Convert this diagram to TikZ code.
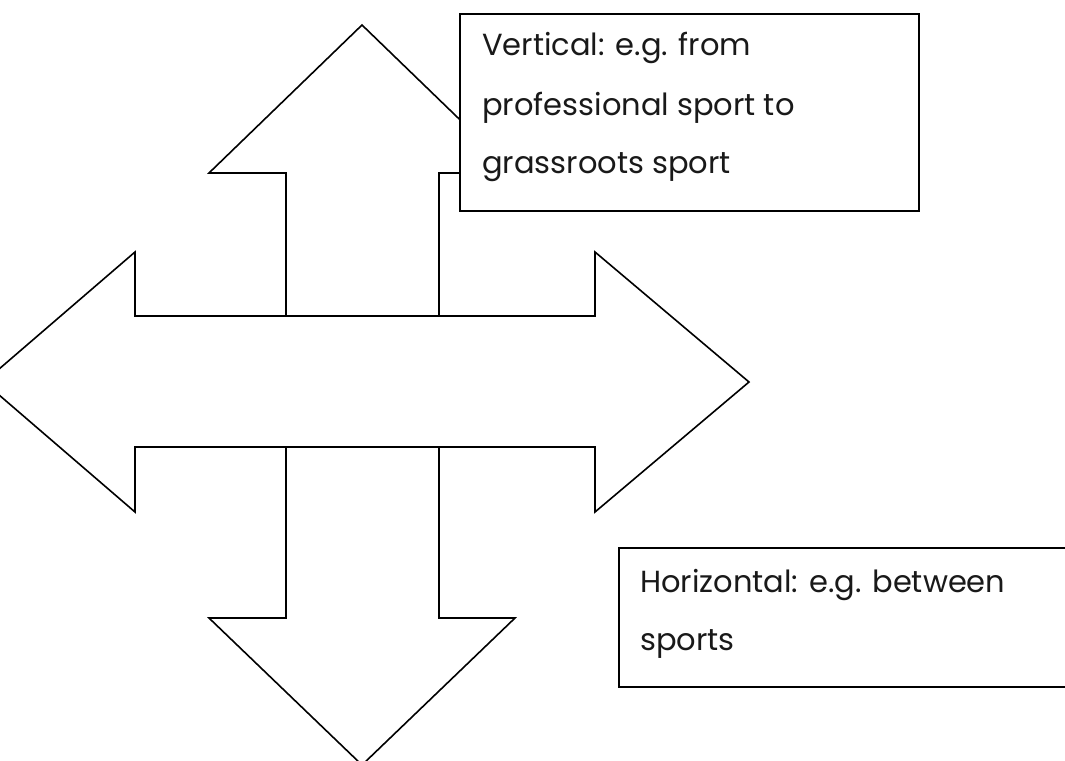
\documentclass[tikz,border=0pt]{standalone}
\usepackage{fontspec}
\setmainfont{Poppins}
\newcommand{\lblfont}{\fontsize{30.5}{36}\selectfont}
\begin{document}
\begin{tikzpicture}[x=1pt,y=-1pt,
  outline/.style={draw=black,line width=1.6pt,line join=miter,fill=white},
  box/.style={draw=black,line width=1.6pt,fill=white,rectangle,inner sep=0pt},
  txt/.style={anchor=base west,inner sep=0pt,font=\lblfont,text=black!90}]
\useasboundingbox (0,0) rectangle (1065,760);
\clip (0,0) rectangle (1065,760);
% vertical double arrow
\draw[outline] (362,25) -- (515,173) -- (439,173) -- (439,618) -- (515,618)
  -- (362,765) -- (209,618) -- (286,618) -- (286,173) -- (209,173) -- cycle;
% horizontal double arrow, drawn on top
\draw[outline] (-16,382) -- (135,252) -- (135,316) -- (595,316) -- (595,252)
  -- (749,382) -- (595,512) -- (595,447) -- (135,447) -- (135,512) -- cycle;
% text boxes
\node[box,minimum width=459pt,minimum height=197pt] (b1) at (689.5,112.5) {};
\node[box,minimum width=461pt,minimum height=139pt] (b2) at (849.5,617.5) {};
\node[txt] (v1) at (482,56) {Vertical: e.g. from};
\node[txt] (v2) at (482,115) {professional sport to};
\node[txt] (v3) at (482,173) {grassroots sport};
\node[txt] (h1) at (640,592) {Horizontal: e.g. between};
\node[txt] (h2) at (640,650) {sports};
\end{tikzpicture}
\end{document}
